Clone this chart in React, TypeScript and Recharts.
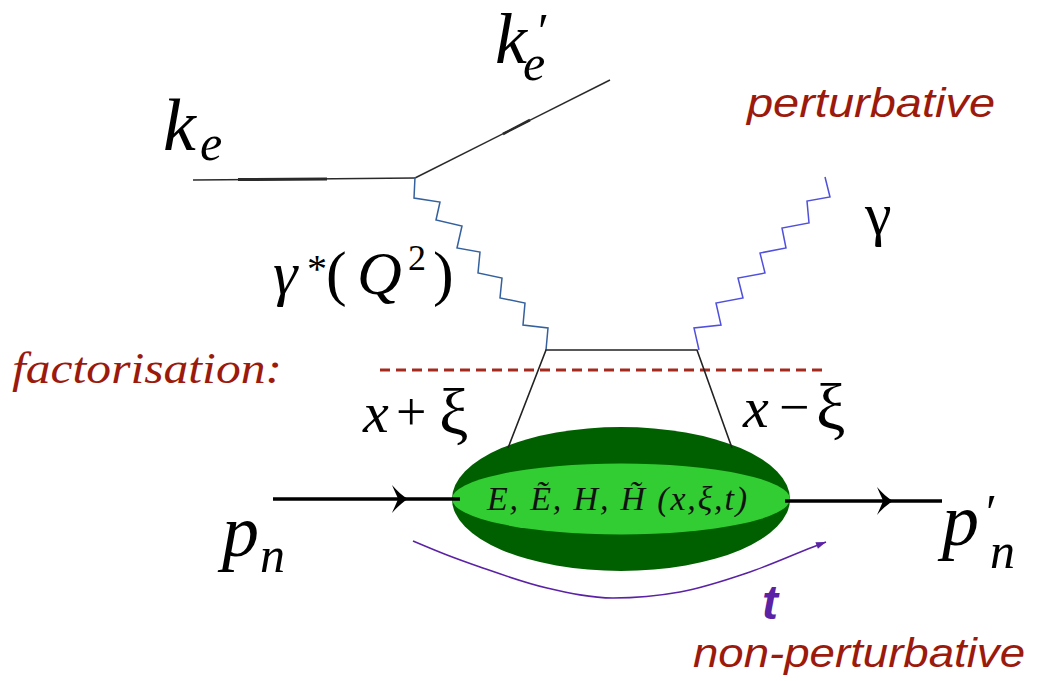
import React from 'react';
import { ComposedChart, Line, Scatter, XAxis, YAxis, ReferenceArea, ReferenceDot } from 'recharts';

const WIDTH = 1048;
const HEIGHT = 681;

// straight lines, picture units (y grows downwards)
const electronIn = [{ x: 193, y: 180 }, { x: 415, y: 178 }];
const electronInMark = [{ x: 238, y: 179.5 }, { x: 327, y: 179 }];
const electronOut = [{ x: 415, y: 178 }, { x: 610, y: 80 }];
const electronOutMark = [{ x: 503, y: 134 }, { x: 530, y: 120 }];
const protonIn = [{ x: 273, y: 499 }, { x: 460, y: 499 }];
const protonOut = [{ x: 785, y: 501 }, { x: 942, y: 501 }];
const quarkLoop = [{ x: 508, y: 448 }, { x: 546, y: 350 }, { x: 697, y: 350 }, { x: 732, y: 448 }];
const factorisationCut = [{ x: 380, y: 370 }, { x: 826, y: 370 }];

// photon zigzags, corner by corner
const virtualPhoton = [
  { x: 415, y: 177 }, { x: 414, y: 198 }, { x: 440, y: 202 }, { x: 436, y: 220 },
  { x: 462, y: 226 }, { x: 457, y: 248 }, { x: 480, y: 252 }, { x: 478, y: 273 },
  { x: 502, y: 278 }, { x: 500, y: 298 }, { x: 525, y: 303 }, { x: 523, y: 325 },
  { x: 548, y: 328 }, { x: 546, y: 350 },
];
const realPhoton = [
  { x: 825, y: 177 }, { x: 830, y: 197 }, { x: 807, y: 201 }, { x: 809, y: 223 },
  { x: 782, y: 228 }, { x: 786, y: 248 }, { x: 760, y: 253 }, { x: 765, y: 273 },
  { x: 738, y: 278 }, { x: 743, y: 298 }, { x: 716, y: 303 }, { x: 721, y: 325 },
  { x: 694, y: 328 }, { x: 699, y: 350 },
];

// momentum transfer arc
const tArc = [
  { x: 413, y: 541 }, { x: 447, y: 555 }, { x: 480, y: 567 }, { x: 547, y: 588 },
  { x: 613, y: 598 }, { x: 680, y: 592 }, { x: 747, y: 573 }, { x: 813, y: 547 },
  { x: 826, y: 542 },
];

// GPD blob extent
const blobX = [452, 790];
const blobY = [427, 571];
const bandY = [463, 534];

// arrow tips on the proton line
const protonArrows = [{ x: 408, y: 499 }, { x: 893, y: 501 }];

const serif = '"Liberation Serif", "Times New Roman", serif';
const sans = '"Liberation Sans", Arial, sans-serif';
const darkRed = '#9c1a0c';
const purple = '#5b22a6';

const none = () => <g />;

const Barb = (p: any) => {
  const { cx, cy } = p;
  const d = `M${cx},${cy} C${cx - 5},${cy - 3} ${cx - 11},${cy - 8} ${cx - 16},${cy - 14} ` +
    `C${cx - 13},${cy - 7} ${cx - 11},${cy - 3} ${cx - 10},${cy} ` +
    `C${cx - 11},${cy + 3} ${cx - 13},${cy + 7} ${cx - 16},${cy + 14} ` +
    `C${cx - 11},${cy + 8} ${cx - 5},${cy + 3} ${cx},${cy} Z`;
  return <path d={d} fill="#000" />;
};

const ArcHead = (p: any) => {
  const a = tArc[tArc.length - 2];
  const b = tArc[tArc.length - 1];
  const ang = (Math.atan2(b.y - a.y, b.x - a.x) * 180) / Math.PI;
  const { cx, cy } = p;
  return (
    <path
      d={`M${cx},${cy} L${cx - 10},${cy - 3.5} L${cx - 10},${cy + 3.5} Z`}
      fill={purple}
      transform={`rotate(${ang} ${cx} ${cy})`}
    />
  );
};

const Blob = (p: any) => {
  const cx = p.x + p.width / 2;
  const cy = p.y + p.height / 2;
  const rx = p.width / 2;
  const ry = p.height / 2;
  const bandRy = (ry * (bandY[1] - bandY[0])) / (blobY[1] - blobY[0]);
  return (
    <g>
      <ellipse cx={cx} cy={cy} rx={rx} ry={ry} fill="#006000" />
      <ellipse cx={cx} cy={cy} rx={rx} ry={bandRy} fill="#32cd32" />
      <text x={cx - 4} y={cy + 11} textAnchor="middle" fontFamily={serif} fontStyle="italic"
        fontSize={34} fill="#111" textLength={260} lengthAdjust="spacing">
        E, Ẽ, H, H̃ (x,ξ,t)
      </text>
    </g>
  );
};

const App = () => {
  const lineProps = (stroke: string, strokeWidth: number, extra: any = {}) => ({
    line: { stroke, strokeWidth, ...extra },
    shape: none,
    fill: 'none',
    legendType: 'none' as const,
    isAnimationActive: false,
  });

  return (
    <div style={{ position: 'absolute', left: 0, top: 0, width: WIDTH, height: HEIGHT, background: '#fff' }}>
      <ComposedChart width={WIDTH} height={HEIGHT} margin={{ top: 0, right: 0, bottom: 0, left: 0 }}>
        <XAxis dataKey="x" type="number" domain={[0, WIDTH]} hide allowDataOverflow />
        <YAxis dataKey="y" type="number" domain={[0, HEIGHT]} reversed hide allowDataOverflow />

        <Scatter data={electronIn} {...lineProps('#2a2a2a', 1.5)} />
        <Scatter data={electronInMark} {...lineProps('#2a2a2a', 3)} />
        <Scatter data={electronOut} {...lineProps('#2a2a2a', 1.5)} />
        <Scatter data={electronOutMark} {...lineProps('#2a2a2a', 2.6)} />
        <Scatter data={virtualPhoton} {...lineProps('#34609e', 1.5)} />
        <Scatter data={realPhoton} {...lineProps('#5050dc', 1.5)} />
        <Scatter data={factorisationCut} {...lineProps('#a52a1e', 3, { strokeDasharray: '10 6' })} />
        <Scatter data={protonIn} {...lineProps('#000', 3.5)} />
        <Scatter data={protonOut} {...lineProps('#000', 3.5)} />
        <Line data={tArc} dataKey="y" type="monotone" stroke={purple} strokeWidth={1.6}
          dot={false} activeDot={false} legendType="none" isAnimationActive={false} />

        <ReferenceArea x1={blobX[0]} x2={blobX[1]} y1={blobY[0]} y2={blobY[1]} shape={Blob} />
        <Scatter data={quarkLoop} {...lineProps('#222', 1.6)} />

        {protonArrows.map((a, i) => (
          <ReferenceDot key={i} x={a.x} y={a.y} r={1} shape={Barb} />
        ))}
        <ReferenceDot x={tArc[tArc.length - 1].x} y={tArc[tArc.length - 1].y} r={1} shape={ArcHead} />

        <ReferenceDot x={163} y={150} r={1} shape={(p: any) => (
          <text x={p.cx} y={p.cy} fontFamily={serif} fontStyle="italic" fontSize={74} fill="#000">
            k<tspan x={p.cx + 37} y={p.cy + 10} fontSize={50}>e</tspan>
          </text>
        )} />
        <ReferenceDot x={495} y={63} r={1} shape={(p: any) => (
          <text x={p.cx} y={p.cy} fontFamily={serif} fontStyle="italic" fontSize={72} fill="#000">
            k<tspan x={p.cx + 43} y={p.cy - 15} fontSize={50} fontStyle="normal">′</tspan>
            <tspan x={p.cx + 28} y={p.cy + 17} fontSize={50}>e</tspan>
          </text>
        )} />
        <ReferenceDot x={747} y={117} r={1} shape={(p: any) => (
          <text x={p.cx} y={p.cy} fontFamily={sans} fontStyle="italic" fontSize={41} fill={darkRed}
            textLength={248} lengthAdjust="spacingAndGlyphs">perturbative</text>
        )} />
        <ReferenceDot x={693} y={667} r={1} shape={(p: any) => (
          <text x={p.cx} y={p.cy} fontFamily={sans} fontStyle="italic" fontSize={41} fill={darkRed}
            textLength={332} lengthAdjust="spacingAndGlyphs">non-perturbative</text>
        )} />
        <ReferenceDot x={865} y={234} r={1} shape={(p: any) => (
          <text x={p.cx} y={p.cy} fontFamily={serif} fontSize={60} fill="#000">γ</text>
        )} />
        <ReferenceDot x={273} y={294} r={1} shape={(p: any) => (
          <text x={p.cx} y={p.cy} fontFamily={serif} fontSize={62} fill="#000">
            <tspan fontStyle="italic">γ</tspan>
            <tspan x={p.cx + 34} y={p.cy - 12} fontSize={40}>*</tspan>
            <tspan x={p.cx + 53} y={p.cy}>(</tspan>
            <tspan x={p.cx + 84} y={p.cy} fontStyle="italic">Q</tspan>
            <tspan x={p.cx + 135} y={p.cy - 24} fontSize={36}>2</tspan>
            <tspan x={p.cx + 160} y={p.cy}>)</tspan>
          </text>
        )} />
        <ReferenceDot x={12} y={383} r={1} shape={(p: any) => (
          <text x={p.cx} y={p.cy} fontFamily={serif} fontStyle="italic" fontSize={44} fill={darkRed}
            textLength={270} lengthAdjust="spacingAndGlyphs">factorisation:</text>
        )} />
        <ReferenceDot x={363} y={432} r={1} shape={(p: any) => (
          <text x={p.cx} y={p.cy} fontFamily={serif} fontSize={58} fill="#000">
            <tspan fontStyle="italic">x</tspan>
            <tspan x={p.cx + 33} y={p.cy - 2} fontSize={54}>+</tspan>
            <tspan x={p.cx + 76} y={p.cy + 2} fontSize={66}>ξ</tspan>
          </text>
        )} />
        <ReferenceDot x={743} y={427} r={1} shape={(p: any) => (
          <text x={p.cx} y={p.cy} fontFamily={serif} fontSize={58} fill="#000">
            <tspan fontStyle="italic">x</tspan>
            <tspan x={p.cx + 36} y={p.cy - 2} fontSize={54}>−</tspan>
            <tspan x={p.cx + 73} y={p.cy + 2} fontSize={66}>ξ</tspan>
          </text>
        )} />
        <ReferenceDot x={222} y={556} r={1} shape={(p: any) => (
          <text x={p.cx} y={p.cy} fontFamily={serif} fontStyle="italic" fontSize={74} fill="#000">
            p<tspan x={p.cx + 38} y={p.cy + 16} fontSize={50}>n</tspan>
          </text>
        )} />
        <ReferenceDot x={942} y={545} r={1} shape={(p: any) => (
          <text x={p.cx} y={p.cy} fontFamily={serif} fontStyle="italic" fontSize={74} fill="#000">
            p<tspan x={p.cx + 44} y={p.cy - 16} fontSize={50} fontStyle="normal">′</tspan>
            <tspan x={p.cx + 48} y={p.cy + 23} fontSize={50}>n</tspan>
          </text>
        )} />
        <ReferenceDot x={762} y={619} r={1} shape={(p: any) => (
          <text x={p.cx} y={p.cy} fontFamily={sans} fontStyle="italic" fontWeight="bold" fontSize={48}
            fill={purple}>t</text>
        )} />
      </ComposedChart>
    </div>
  );
};

export default App;
